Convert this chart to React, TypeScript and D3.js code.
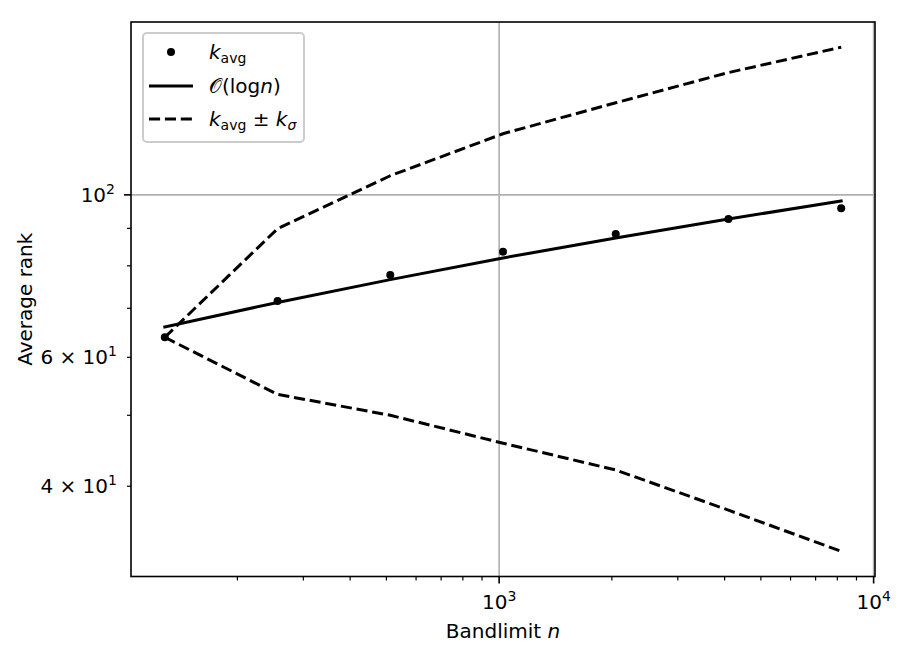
import React from "react";
import * as d3 from "d3";

// bandlimits used in the experiment
const bandlimits = [128, 256, 512, 1024, 2048, 4096, 8192];
// measured average rank
const kAvg = [63.9, 71.6, 77.7, 83.6, 88.4, 92.7, 95.9];
// k_avg + k_sigma and k_avg - k_sigma
const kUpper = [63.9, 89.9, 106.2, 121.2, 133.6, 146.9, 159.1];
const kLower = [63.9, 53.4, 50.0, 45.8, 42.1, 37.1, 32.6];
// O(log n) fit
const fitLog = [66.0, 71.3, 76.6, 82.0, 87.3, 92.7, 98.1];

const xMajorTicks = [1000, 10000];
const xMajorLabels = [["10", "3"], ["10", "4"]];
const xMinorTicks = [200, 300, 400, 500, 600, 700, 800, 900, 2000, 3000, 4000, 5000, 6000, 7000, 8000, 9000];
const yMajorTicks = [100];
const yMajorLabels = [["10", "2"]];
const yMinorTicks = [30, 40, 50, 60, 70, 80, 90];
const yMinorLabelled = [40, 60];
const yMinorLabels = [["4 × 10", "1"], ["6 × 10", "1"]];

const W = 909;
const H = 658;
const margin = { top: 22, left: 131, right: 34, bottom: 81.5 };
const FONT = "DejaVu Sans";

// matplotlib style 5% margin in log space
const logPad = (lo: number, hi: number) => {
  const a = Math.log10(lo);
  const b = Math.log10(hi);
  const p = (b - a) * 0.05;
  return [Math.pow(10, a - p), Math.pow(10, b + p)];
};

const Sup = ({ base, exp }: { base: string; exp: string }) => (
  <>
    {base}
    <tspan fontSize={14} dy={-8}>{exp}</tspan>
  </>
);

const App = () => {
  const width = W - margin.left - margin.right;
  const height = H - margin.top - margin.bottom;

  const x = d3
    .scaleLog()
    .domain(logPad(d3.min(bandlimits)!, d3.max(bandlimits)!))
    .range([0, width]);
  const y = d3
    .scaleLog()
    .domain(logPad(d3.min(kLower)!, d3.max(kUpper)!))
    .range([height, 0]);

  const inX = (v: number) => v >= x.domain()[0] && v <= x.domain()[1];
  const inY = (v: number) => v >= y.domain()[0] && v <= y.domain()[1];

  const line = d3
    .line<number>()
    .x((d, i) => x(bandlimits[i]))
    .y((d) => y(d));

  const dash = "11.1 4.8";

  return (
    <svg width={W} height={H} style={{ position: "absolute", left: 0, top: 0, background: "#fff" }} fontFamily={FONT}>
      <g transform={`translate(${margin.left},${margin.top})`}>
        {/* grid */}
        {xMajorTicks.filter(inX).map((t) => (
          <line key={"gx" + t} x1={x(t)} x2={x(t)} y1={0} y2={height} stroke="#b0b0b0" strokeWidth={1.6} />
        ))}
        {yMajorTicks.filter(inY).map((t) => (
          <line key={"gy" + t} x1={0} x2={width} y1={y(t)} y2={y(t)} stroke="#b0b0b0" strokeWidth={1.6} />
        ))}

        {/* data */}
        {kAvg.map((d, i) => (
          <circle key={"p" + i} cx={x(bandlimits[i])} cy={y(d)} r={4} fill="#000" />
        ))}
        <path d={line(fitLog)!} fill="none" stroke="#000" strokeWidth={3} strokeLinecap="square" strokeLinejoin="round" />
        <path d={line(kUpper)!} fill="none" stroke="#000" strokeWidth={3} strokeDasharray={dash} strokeLinejoin="round" />
        <path d={line(kLower)!} fill="none" stroke="#000" strokeWidth={3} strokeDasharray={dash} strokeLinejoin="round" />

        {/* x ticks */}
        {xMajorTicks.filter(inX).map((t, i) => (
          <g key={"xt" + t} transform={`translate(${x(t)},${height})`}>
            <line y2={7} stroke="#000" strokeWidth={1.6} />
            <text y={32} textAnchor="middle" fontSize={20} fill="#000">
              <Sup base={xMajorLabels[i][0]} exp={xMajorLabels[i][1]} />
            </text>
          </g>
        ))}
        {xMinorTicks.filter(inX).map((t) => (
          <line key={"xm" + t} x1={x(t)} x2={x(t)} y1={height} y2={height + 4} stroke="#000" strokeWidth={1.2} />
        ))}

        {/* y ticks */}
        {yMajorTicks.filter(inY).map((t, i) => (
          <g key={"yt" + t} transform={`translate(0,${y(t)})`}>
            <line x2={-7} stroke="#000" strokeWidth={1.6} />
            <text x={-16} y={7} textAnchor="end" fontSize={20} fill="#000">
              <Sup base={yMajorLabels[i][0]} exp={yMajorLabels[i][1]} />
            </text>
          </g>
        ))}
        {yMinorTicks.filter(inY).map((t) => (
          <line key={"ym" + t} x1={0} x2={-4} y1={y(t)} y2={y(t)} stroke="#000" strokeWidth={1.2} />
        ))}
        {yMinorLabelled.map((t, i) => (
          <text key={"yl" + t} x={-14} y={y(t) + 7} textAnchor="end" fontSize={20} fill="#000">
            <Sup base={yMinorLabels[i][0]} exp={yMinorLabels[i][1]} />
          </text>
        ))}

        {/* frame */}
        <rect x={0} y={0} width={width} height={height} fill="none" stroke="#000" strokeWidth={1.6} />

        {/* axis labels */}
        <text x={width / 2} y={height + 61} textAnchor="middle" fontSize={20} fill="#000">
          Bandlimit <tspan fontStyle="italic">n</tspan>
        </text>
        <text
          transform={`translate(${-99},${height / 2}) rotate(-90)`}
          textAnchor="middle"
          fontSize={20}
          fill="#000"
        >
          Average rank
        </text>

        {/* legend */}
        <g transform="translate(12,11)">
          <rect x={0} y={0} width={161} height={109} rx={4} fill="#fff" fillOpacity={0.8} stroke="#cccccc" strokeWidth={2} />
          <circle cx={28} cy={19} r={4} fill="#000" />
          <text x={66} y={26} fontSize={20} fill="#000">
            <tspan fontStyle="italic">k</tspan>
            <tspan fontSize={14} dy={4}>avg</tspan>
          </text>
          <line x1={6} x2={50} y1={53} y2={53} stroke="#000" strokeWidth={3} />
          <text x={66} y={60} fontSize={20} fill="#000">
            𝒪(log<tspan fontStyle="italic">n</tspan>)
          </text>
          <line x1={6} x2={50} y1={86} y2={86} stroke="#000" strokeWidth={3} strokeDasharray={dash} />
          <text x={66} y={93} fontSize={20} fill="#000">
            <tspan fontStyle="italic">k</tspan>
            <tspan fontSize={14} dy={4}>avg</tspan>
            <tspan dy={-4}> ± </tspan>
            <tspan fontStyle="italic">k</tspan>
            <tspan fontSize={14} dy={4} fontStyle="italic">σ</tspan>
          </text>
        </g>
      </g>
    </svg>
  );
};

export default App;
